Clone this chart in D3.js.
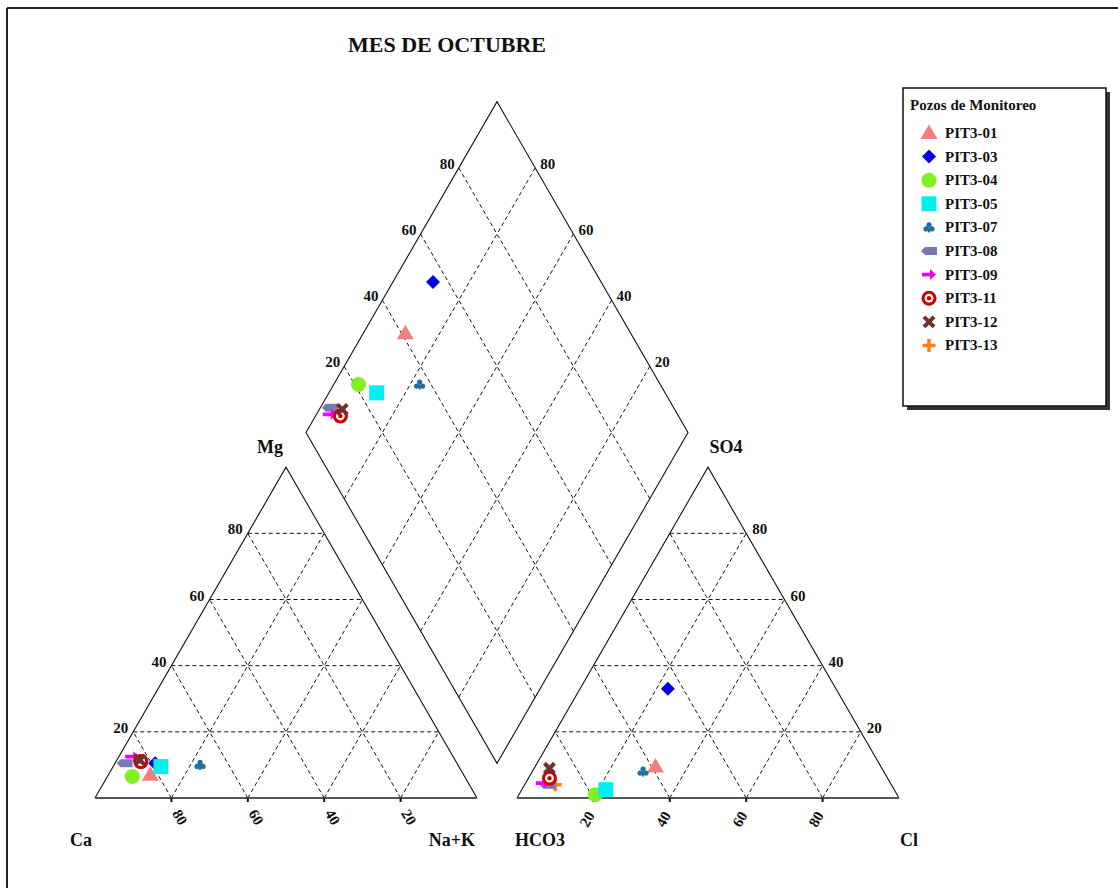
<!DOCTYPE html>
<html><head><meta charset="utf-8">
<script src="https://cdn.jsdelivr.net/npm/d3@7"></script>
<style>
html,body{margin:0;padding:0;background:#fff;}
text{font-family:"Liberation Serif","Times New Roman",serif;font-weight:bold;fill:#111;}
</style></head>
<body><svg id="c" width="1118" height="888"></svg>
<script>
// ---- data (meq %) ----
const wells = ["PIT3-01","PIT3-03","PIT3-04","PIT3-05","PIT3-07","PIT3-08","PIT3-09","PIT3-11","PIT3-12","PIT3-13"];
const caPct   = [82, 79, 87, 78, 67.5, 87, 84, 82.5, 82.5, 82.5];
const mgPct   = [7, 10.5, 6.5, 9.5, 10, 10.5, 12.5, 11, 11.5, 11];
const nakPct  = [11, 10.5, 6.5, 12.5, 22.5, 2.5, 3.5, 6.5, 6, 6.5];
const hco3Pct = [59, 44, 79, 75.5, 63, 90, 91, 88.5, 87, 88];
const so4Pct  = [9.5, 33, 1, 2.5, 8, 4, 4.5, 6, 9, 4];
const clPct   = [31.5, 23, 20, 22, 29, 6, 4.5, 5.5, 4, 8];
const tickVals = [20, 40, 60, 80];
const titleText = "MES DE OCTUBRE";
const legendTitle = "Pozos de Monitoreo";

const colors = ["#f08080","#0000e0","#80f020","#00f0f0","#206ea0","#7878b8","#f000f0","#d00000","#703030","#ff8010"];
const kinds  = ["tri","dia","circ","sq","club","tab","arrow","target","x","plus"];

const svg = d3.select("#c");
const L = 382, H = L*Math.sqrt(3)/2, base = 798, gap = 40;
const x0L = 95, x0R = x0L + L + gap;

// scales
const xL = d3.scaleLinear().domain([0,100]).range([x0L, x0L+L]);
const xR = d3.scaleLinear().domain([0,100]).range([x0R, x0R+L]);
const yT = d3.scaleLinear().domain([0,100]).range([base, base-H]);
const bx = x0L + L + gap/2, by = base - (gap/2)*Math.sqrt(3);
const leftV = [bx - L/2, by - H];
const dX = d3.scaleLinear().domain([0,200]).range([leftV[0], leftV[0]+L]); // (q+n)
const dY = d3.scaleLinear().domain([-100,100]).range([leftV[1]-H, leftV[1]+H]); // (n-q)

function pL(mg, na){ return [xL(na + mg/2), yT(mg)]; }
function pR(so4, cl){ return [xR(cl + so4/2), yT(so4)]; }
function pD(q, n){ return [dX(q+n), dY(n-q)]; }

// frame
svg.append("line").attr("x1",7).attr("y1",8).attr("x2",1118).attr("y2",8).attr("stroke","#222").attr("stroke-width",2);
svg.append("line").attr("x1",7).attr("y1",8).attr("x2",7).attr("y2",888).attr("stroke","#222").attr("stroke-width",2);

const line = d3.line();
const gGrid = svg.append("g").attr("fill","none").attr("stroke","#111").attr("stroke-width",1).attr("stroke-dasharray","4,3");
const gOut = svg.append("g").attr("fill","none").attr("stroke","#111").attr("stroke-width",1.1);

// grids
tickVals.forEach(v=>{
  gGrid.append("path").attr("d", line([pL(v,0), pL(v,100-v)]));       // Mg const
  gGrid.append("path").attr("d", line([pL(0,v), pL(100-v,v)]));       // Na const
  gGrid.append("path").attr("d", line([pL(0,100-v), pL(100-v,0)]));   // Ca const
  gGrid.append("path").attr("d", line([pR(v,0), pR(v,100-v)]));
  gGrid.append("path").attr("d", line([pR(0,v), pR(100-v,v)]));
  gGrid.append("path").attr("d", line([pR(0,100-v), pR(100-v,0)]));
  gGrid.append("path").attr("d", line([pD(v,0), pD(v,100)]));
  gGrid.append("path").attr("d", line([pD(0,v), pD(100,v)]));
});
// outlines
gOut.append("path").attr("d", line([pL(0,0), pL(100,0), pL(0,100)]));
gOut.append("path").attr("d", line([pR(0,0), pR(100,0), pR(0,100)]));
gOut.append("path").attr("d", line([pD(0,0), pD(100,0), pD(100,100), pD(0,100)]) + "Z");
// bases
svg.append("path").attr("d", line([pL(0,0), pL(0,100)])).attr("stroke","#555").attr("stroke-width",2);
svg.append("path").attr("d", line([pR(0,0), pR(0,100)])).attr("stroke","#555").attr("stroke-width",2);

// ticks + labels
const gT = svg.append("g");
tickVals.forEach(v=>{
  let [tx,ty] = pL(0, 100-v);
  gT.append("line").attr("x1",tx).attr("x2",tx).attr("y1",ty).attr("y2",ty+4).attr("stroke","#111").attr("stroke-width",2);
  gT.append("text").attr("transform",`translate(${tx+7},${ty+20}) rotate(60)`).attr("text-anchor","middle").attr("dominant-baseline","middle").attr("font-size",15).text(v);
  let [lx,ly] = pL(v,0);
  gT.append("text").attr("x",lx-5).attr("y",ly+1).attr("text-anchor","end").attr("font-size",15).text(v);
  let [rx,ry] = pR(0, v);
  gT.append("line").attr("x1",rx).attr("x2",rx).attr("y1",ry).attr("y2",ry+4).attr("stroke","#111").attr("stroke-width",2);
  gT.append("text").attr("transform",`translate(${rx-5},${ry+22}) rotate(-60)`).attr("text-anchor","middle").attr("dominant-baseline","middle").attr("font-size",15).text(v);
  let [sx,sy] = pR(v, 100-v);
  gT.append("text").attr("x",sx+6).attr("y",sy+1).attr("text-anchor","start").attr("font-size",15).text(v);
  let [ux,uy] = pD(v,0);
  gT.append("text").attr("x",ux-4).attr("y",uy+1).attr("text-anchor","end").attr("font-size",15).text(v);
  let [wx,wy] = pD(100, 100-v);
  gT.append("text").attr("x",wx+5).attr("y",wy+1).attr("text-anchor","start").attr("font-size",15).text(v);
});

// axis names
const names = [["Mg",pL(100,0),-16,-14,"middle"],["SO4",pR(100,0),18,-14,"middle"],["Ca",pL(0,0),-25,48,"start"],["Na+K",pL(0,100),-25,48,"middle"],["HCO3",pR(0,0),-2,48,"start"],["Cl",pR(0,100),10,48,"middle"]];
names.forEach(([t,p,dx,dy,a])=>{
  svg.append("text").attr("x",p[0]+dx).attr("y",p[1]+dy).attr("text-anchor",a).attr("font-size",18).text(t);
});
svg.append("text").attr("x",447).attr("y",52).attr("text-anchor","middle").attr("font-size",22).text(titleText);

// marker drawing
function marker(g, kind, color, x, y){
  const m = g.append("g").attr("transform",`translate(${x},${y})`);
  switch(kind){
    case "tri": m.append("path").attr("d","M0,-8.5L8.5,6L-8.5,6Z").attr("fill",color); break;
    case "dia": m.append("path").attr("d","M0,-7L7,0L0,7L-7,0Z").attr("fill",color); break;
    case "circ": m.append("circle").attr("r",7.5).attr("fill",color); break;
    case "sq": m.append("rect").attr("x",-7.5).attr("y",-7.5).attr("width",15).attr("height",15).attr("fill",color); break;
    case "club":
      m.append("circle").attr("cx",0).attr("cy",-2.5).attr("r",2.6).attr("fill",color);
      m.append("circle").attr("cx",-3).attr("cy",1.5).attr("r",2.6).attr("fill",color);
      m.append("circle").attr("cx",3).attr("cy",1.5).attr("r",2.6).attr("fill",color);
      m.append("rect").attr("x",-1).attr("y",0).attr("width",2).attr("height",5).attr("fill",color); break;
    case "tab": m.append("path").attr("d","M-8,0L-4,-4L8,-4L8,4L-4,4Z").attr("fill",color); break;
    case "arrow": m.append("path").attr("d","M-7,-1.8L1,-1.8L1,-5.5L7,0L1,5.5L1,1.8L-7,1.8Z").attr("fill",color); break;
    case "target":
      m.append("circle").attr("r",7.5).attr("fill",color);
      m.append("circle").attr("r",4.4).attr("fill","#fff");
      m.append("circle").attr("r",2.2).attr("fill",color); break;
    case "x": m.append("path").attr("d","M-5,-5L5,5M-5,5L5,-5").attr("stroke",color).attr("stroke-width",4); break;
    case "plus": m.append("path").attr("d","M-6.5,0L6.5,0M0,-6.5L0,6.5").attr("stroke",color).attr("stroke-width",3.5); break;
  }
}

// points (PIT3-13 drawn first so it sits behind)
const order = [9,0,1,2,3,4,5,6,7,8];
const gP = svg.append("g");
order.forEach(i=>{ const a = pL(mgPct[i], nakPct[i]); marker(gP, kinds[i], colors[i], a[0], a[1]); });
order.forEach(i=>{ const a = pR(so4Pct[i], clPct[i]); marker(gP, kinds[i], colors[i], a[0], a[1]); });
order.forEach(i=>{ const a = pD(so4Pct[i]+clPct[i], nakPct[i]); marker(gP, kinds[i], colors[i], a[0], a[1]); });

// legend
const lg = svg.append("g");
lg.append("rect").attr("x",907).attr("y",92).attr("width",203).attr("height",318).attr("fill","#333");
lg.append("rect").attr("x",903).attr("y",88).attr("width",203).attr("height",318).attr("fill","#fff").attr("stroke","#111").attr("stroke-width",1.5);
lg.append("text").attr("x",910).attr("y",110).attr("font-size",15).text(legendTitle);
wells.forEach((w,i)=>{
  const y = 133 + i*23.6;
  marker(lg, kinds[i], colors[i], 929, y);
  lg.append("text").attr("x",945).attr("y",y+5).attr("font-size",15).text(w);
});
</script></body></html>
